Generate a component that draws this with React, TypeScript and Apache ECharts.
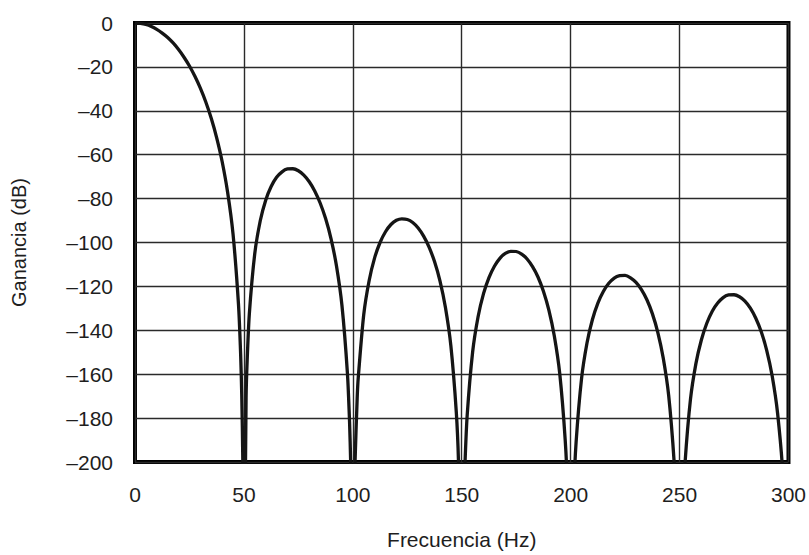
import React, { useEffect, useRef } from "react";
import * as echarts from "echarts";

// Frequency (Hz) and gain (dB)
const freqHz = [
  0, 2.5, 5, 7.5, 10, 12.5, 15, 17.5, 20, 22.5, 25, 27.5, 30, 32.5, 35, 37.5, 40, 42.5, 45, 47.5, 48.5, 49, 49.5, 50,
  50.5, 51, 51.5, 52.5, 55, 57.5, 60, 62.5, 65, 67.5, 70, 72.5, 75, 77.5, 80, 82.5, 85, 87.5, 90, 92.5, 95, 97.5, 98.5, 99, 99.5, 100,
  100.5, 101, 102, 102.5, 105, 107.5, 110, 112.5, 115, 117.5, 120, 122.5, 125, 127.5, 130, 132.5, 135, 137.5, 140, 142.5, 145, 147.5, 148.5, 149.5, 150,
  150.5, 151, 151.5, 152.5, 155, 157.5, 160, 162.5, 165, 167.5, 170, 172.5, 175, 177.5, 180, 182.5, 185, 187.5, 190, 192.5, 195, 197.5, 198.5, 199.5, 200,
  200.5, 201.5, 202.5, 205, 207.5, 210, 212.5, 215, 217.5, 220, 222.5, 225, 227.5, 230, 232.5, 235, 237.5, 240, 242.5, 245, 247.5, 248.5, 250,
  251.5, 252.5, 255, 257.5, 260, 262.5, 265, 267.5, 270, 272.5, 275, 277.5, 280, 282.5, 285, 287.5, 290, 292.5, 295, 297.5, 300,
];
const gainDb = [
  0, -0.2, -0.7, -1.6, -2.9, -4.6, -6.6, -9.1, -12.1, -15.6, -19.6, -24.3, -29.7, -36.0, -43.4, -52.3, -63.1, -77.0, -96.1, -128.1, -151.0, -169.1, -199.6, -300,
  -230.3, -170.8, -153.6, -132.4, -104.9, -90.1, -80.7, -74.5, -70.3, -67.8, -66.5, -66.4, -67.3, -69.3, -72.3, -76.5, -82.0, -89.1, -98.3, -110.7, -128.6, -159.3, -181.8, -199.6, -229.9, -300,
  -230.3, -200.5, -170.9, -161.5, -132.9, -117.3, -107.0, -100.0, -95.1, -91.8, -89.9, -89.2, -89.5, -90.9, -93.4, -97.1, -102.1, -108.7, -117.5, -129.5, -147.0, -177.3, -199.6, -247.6, -300,
  -247.9, -217.9, -200.5, -178.7, -149.9, -133.8, -123.3, -116.0, -110.8, -107.2, -105.0, -104.0, -104.1, -105.3, -107.5, -111.0, -115.7, -122.2, -130.8, -142.6, -159.8, -190.0, -212.2, -260.1, -300,
  -260.3, -212.9, -191.0, -162.0, -145.8, -135.1, -127.6, -122.3, -118.6, -116.2, -115.1, -115.0, -116.1, -118.2, -121.5, -126.1, -132.4, -140.9, -152.6, -169.7, -199.8, -222.0, -300,
  -222.5, -200.6, -171.5, -155.2, -144.4, -136.8, -131.3, -127.6, -125.1, -123.9, -123.8, -124.7, -126.7, -129.9, -134.5, -140.7, -149.1, -160.7, -177.8, -207.7, -300,
];

const xTicks = [0, 50, 100, 150, 200, 250, 300];
const yTicks = [0, -20, -40, -60, -80, -100, -120, -140, -160, -180, -200];

const FONT = "'Liberation Sans', Arial, sans-serif";
const TEXT = "#1e1e1e";

export default function App() {
  const ref = useRef<HTMLDivElement>(null);
  useEffect(() => {
    if (!ref.current) return;
    const chart = echarts.init(ref.current, null, { renderer: "svg" });
    const data = freqHz.map((f, i) => [f, gainDb[i]]);
    chart.setOption({
      animation: false,
      backgroundColor: "#fff",
      grid: {
        left: 135,
        top: 23,
        right: 20,
        bottom: 89,
        show: true,
        borderColor: "#000",
        borderWidth: 4,
        backgroundColor: "transparent",
      },
      xAxis: {
        type: "value",
        min: xTicks[0],
        max: xTicks[xTicks.length - 1],
        interval: 50,
        name: "Frecuencia (Hz)",
        nameLocation: "middle",
        nameGap: 67,
        nameTextStyle: { fontFamily: FONT, fontSize: 21, color: TEXT },
        axisLine: { show: false },
        axisTick: { show: false },
        axisLabel: { fontFamily: FONT, fontSize: 21, color: TEXT, margin: 22 },
        splitLine: { show: true, lineStyle: { color: "#2a2a2a", width: 1.4 } },
      },
      yAxis: {
        type: "value",
        min: yTicks[yTicks.length - 1],
        max: yTicks[0],
        interval: 20,
        name: "Ganancia (dB)",
        nameLocation: "middle",
        nameGap: 106,
        nameTextStyle: { fontFamily: FONT, fontSize: 20, color: TEXT },
        axisLine: { show: false },
        axisTick: { show: false },
        axisLabel: {
          fontFamily: FONT,
          fontSize: 21,
          color: TEXT,
          margin: 22,
          formatter: (v: number) => (v < 0 ? "\u2013" + Math.abs(v) : String(v)),
        },
        splitLine: { show: true, lineStyle: { color: "#2a2a2a", width: 1.4 } },
      },
      series: [
        {
          type: "line",
          data,
          showSymbol: false,
          smooth: 0.2,
          clip: true,
          lineStyle: { color: "#151515", width: 3.3 },
        },
      ],
    });
    return () => chart.dispose();
  }, []);
  return <div ref={ref} style={{ width: 809, height: 555, position: "absolute", left: 0, top: 0 }} />;
}
